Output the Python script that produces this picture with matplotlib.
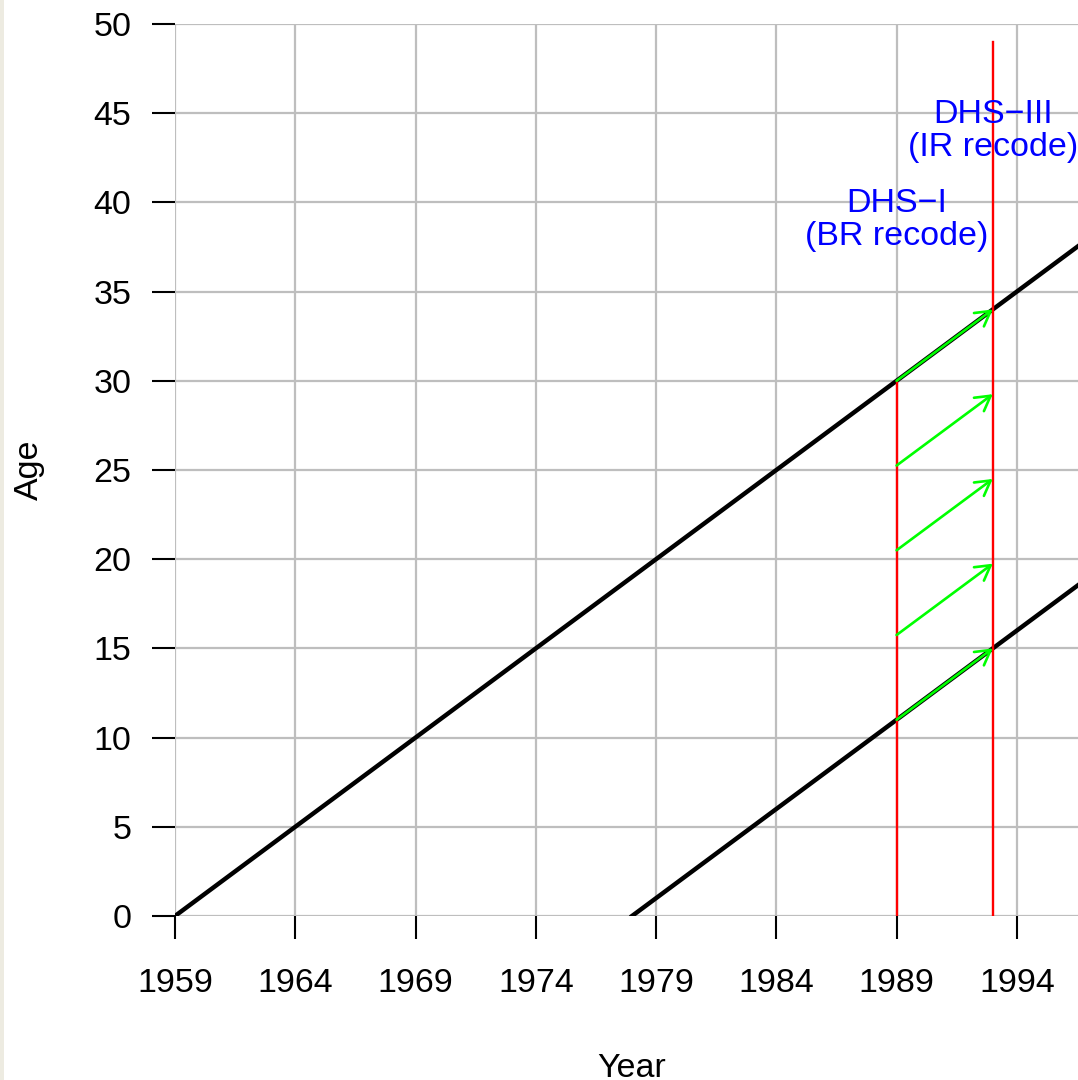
#!/usr/bin/env python3
"""
Lexis diagram: DHS-I (BR recode) vs DHS-III (IR recode)
"""

import matplotlib
matplotlib.use("Agg")
import matplotlib.pyplot as plt
from matplotlib.patches import FancyArrowPatch, Rectangle

plt.rcParams['font.family'] = ['Liberation Sans', 'DejaVu Sans']

# ---- data ----
x_ticks = [1959, 1964, 1969, 1974, 1979, 1984, 1989, 1994]
y_ticks = [0, 5, 10, 15, 20, 25, 30, 35, 40, 45, 50]

# cohort lines (year, age)
cohort1_years = [1959, 1997]
cohort1_ages = [0, 38]
cohort2_years = [1978, 1997]
cohort2_ages = [0, 19]

# survey verticals
survey_years = [1989, 1993]
survey_top_ages = [30, 49]

# green arrows, from survey 1 to survey 2
arrow_start_ages = [11, 15.75, 20.5, 25.25, 30]
arrow_end_ages = [15, 19.75, 24.5, 29.25, 34]

labels = ["DHS\u2212I\n(BR recode)", "DHS\u2212III\n(IR recode)"]
label_years = [1989, 1993]
label_ages = [39.0, 44.0]

W, H = 1078, 1080
fig = plt.figure(figsize=(W / 100, H / 100), dpi=100, facecolor='white')

# beige strip on the left edge
fig.patches.append(Rectangle((0, 0), 4 / W, 1, transform=fig.transFigure,
                             facecolor='#edebe1', edgecolor='none', zorder=0))

# plot region runs past the right edge (picture is cropped)
ax = fig.add_axes([175 / W, 164 / H, 914 / W, 892 / H])
ax.set_xlim(1959, 1997)
ax.set_ylim(0, 50)
for s in ax.spines.values():
    s.set_visible(False)

fs = 24.5
ax.set_xticks(x_ticks)
ax.set_yticks(y_ticks)
ax.set_xticklabels([str(v) for v in x_ticks], fontsize=fs)
ax.set_yticklabels([str(v) for v in y_ticks], fontsize=fs)
ax.tick_params(axis='both', direction='out', length=16.5, width=1.5, color='black')
ax.tick_params(axis='x', pad=21)
ax.tick_params(axis='y', pad=15)

ax.grid(True, color='#bebebe', linewidth=1.6)
ax.set_axisbelow(True)

ax.set_xlabel('Year', fontsize=fs, labelpad=39)
fig.text(29 / W, 1 - 470 / H, 'Age', rotation=90, fontsize=fs,
         ha='center', va='center')

# cohort lines
ax.plot(cohort1_years, cohort1_ages, color='black', linewidth=3.2, zorder=3)
ax.plot(cohort2_years, cohort2_ages, color='black', linewidth=3.2, zorder=3)

# survey lines
for yr, top in zip(survey_years, survey_top_ages):
    ax.plot([yr, yr], [0, top], color='#ff0000', linewidth=1.7, zorder=4)

# arrows
for a0, a1 in zip(arrow_start_ages, arrow_end_ages):
    arr = FancyArrowPatch((survey_years[0], a0), (survey_years[1], a1),
                          arrowstyle='->,head_length=1.05,head_width=0.6',
                          mutation_scale=10, color='#00ff00', linewidth=1.9,
                          shrinkA=0, shrinkB=0, zorder=5)
    ax.add_patch(arr)

# survey labels
for txt, x, y in zip(labels, label_years, label_ages):
    ax.text(x, y, txt, color='#0000ff', fontsize=fs, ha='center', va='center',
            linespacing=1.08, zorder=6)

fig.savefig('out.png', dpi=100)
